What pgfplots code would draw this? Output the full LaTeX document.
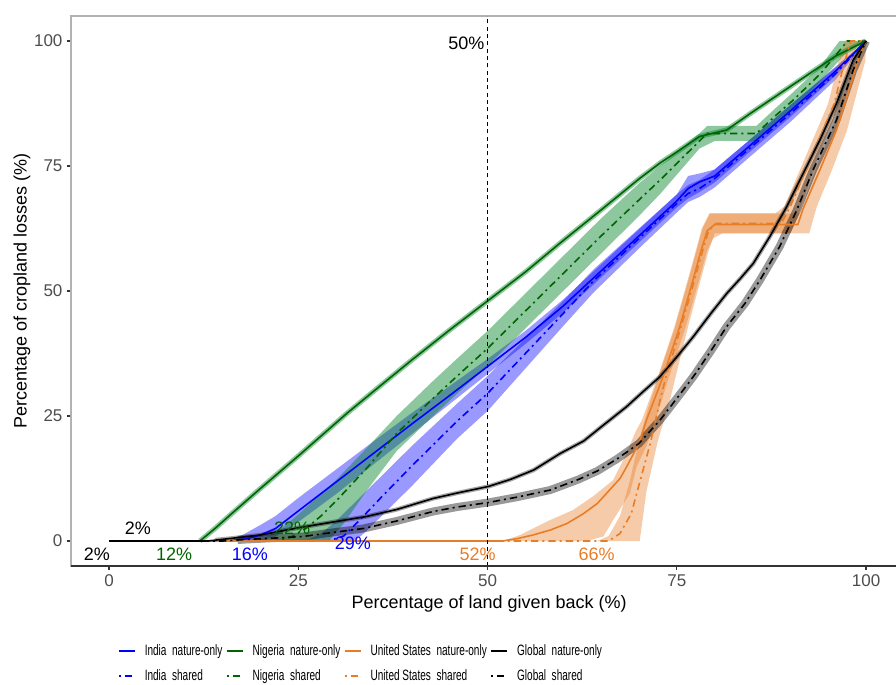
\documentclass[border=0pt]{standalone}
\usepackage{fontspec}
\setmainfont{Liberation Sans}
\usepackage{graphicx}
\usepackage{pgfplots}
\pgfplotsset{compat=1.18}

\definecolor{cIndia}{RGB}{0,0,255}
\definecolor{cNig}{RGB}{0,100,0}
\definecolor{cNigFill}{RGB}{0,130,40}
\definecolor{cUS}{RGB}{232,125,40}
\definecolor{cTick}{RGB}{77,77,77}
\tikzset{dd/.style={dash pattern=on 1.5pt off 3pt on 5.5pt off 3pt}}
\newcommand{\legtxt}[1]{\scalebox{0.67}[1]{\fontsize{11.25}{13}\selectfont #1}}

\begin{document}
\begin{tikzpicture}
\begin{axis}[
  x=5.6775pt, y=3.75pt,
  xmin=-5, xmax=105, ymin=-5, ymax=105,
  axis line style={draw=gray!60, line width=1.1pt},
  xtick={0,25,50,75,100}, ytick={0,25,50,75,100},
  tick align=outside, tick pos=left,
  major tick length=3pt,
  every tick/.style={black!80, line width=0.8pt},
  tick label style={font=\fontsize{12.75}{14}\selectfont, text=cTick},
  /pgf/number format/assume math mode=true,
  xlabel={Percentage of land given back (\%)},
  ylabel={Percentage of cropland losses (\%)},
  label style={font=\fontsize{13.5}{15}\selectfont},
  xlabel style={at={(rel axis cs:0.502,-0.069)}, anchor=center},
  ylabel style={at={(rel axis cs:-0.059,0.5)}, anchor=center},
  legend columns=4,
  legend image code/.code={\draw[line width=1.2pt, #1] (0pt,0pt) -- (12pt,0pt);},
  legend style={at={(axis cs:0.6,-19.6)}, anchor=north west, draw=none, fill=none,
    cells={anchor=west}, row sep=5pt,
    /tikz/every odd column/.append style={column sep=5pt},
    /tikz/every even column/.append style={column sep=0.5pt}},
]
\coordinate (bbSW) at (axis cs:-14.4,-28.6);
\coordinate (bbNE) at (axis cs:103.96,108.2);

% ---------- ribbons ----------
% India nature-only
\addplot[draw=none, fill=cIndia, fill opacity=0.4, forget plot] coordinates {
(16,0) (18,1.5) (20,3.2) (22,5) (25,8.6) (30,14.3) (35,20) (40,25.6) (45,31) (50,36.4) (55,42) (60,48.3) (65,55.3) (70,62.3) (75,69.3) (76.5,73) (78,73.5) (80,74.3) (85,80.7) (90,87.2) (96,94.9) (100,100)
(96,93.1) (90,84.8) (85,78.3) (80,71.7) (78,69.8) (76.5,68.5) (75,66.7) (70,59.7) (65,52.7) (60,45.7) (55,39.4) (50,33.4) (45,27.4) (40,21.4) (35,15.4) (30,9.4) (25,3.8) (22,0.9) (20,0) (16,0)};
% India shared
\addplot[draw=none, fill=cIndia, fill opacity=0.4, forget plot] coordinates {
(26,0) (28,1.5) (30,4) (33,8.5) (36,13) (40,19) (46,27.5) (50,33) (55,40.5) (60,48) (64,54.3) (70,62.5) (75,69.3) (76.5,71.2) (78,72.2) (80,74.3) (85,80.7) (90,87.2) (96,94.7) (100,100)
(96,92.3) (90,83.8) (85,77.3) (80,70.7) (78,68.8) (76.5,67.8) (75,65.7) (70,58.5) (64,49.7) (60,43) (55,34.5) (50,26) (46,20.5) (40,11) (36,5) (34,2) (32.5,0) (26,0)};
% Nigeria shared
\addplot[draw=none, fill=cNigFill, fill opacity=0.45, forget plot] coordinates {
(19,0) (21,1) (23,2.8) (25,5.3) (28,9.5) (30,12.2) (34,18.5) (38,25) (42.8,32) (46,36.5) (50,42) (55,49.5) (60,57) (65,64.5) (70,71.5) (72.8,75) (76,79) (78,81.5) (79,83) (85.5,83) (88,86.5) (90.4,89.8) (94,95) (96.5,100) (100,100)
(98,98.5) (97,97) (94,92) (90.4,86.6) (88,83.5) (85.5,80) (80,80) (78,78.5) (76,75) (72.8,69.4) (70,65) (65,57.5) (60,50) (55,42.5) (50,35) (46,29.5) (42.8,25) (38,18) (34,10) (31,3.5) (29,0) (19,0)};
% United States nature-only
\addplot[draw=none, fill=cUS, fill opacity=0.4, forget plot] coordinates {
(52,0) (54.3,1.2) (58,4) (61.3,6.2) (64,9) (66.6,12.2) (68.2,17) (69.6,22) (70.4,24.2) (72.5,32.9) (74.7,42.9) (76.5,52.5) (77.5,58) (78.3,62.5) (79.3,65.5) (91.2,65.5) (93.3,74.2) (95.5,82.2) (97.3,90.9) (98.7,97.5) (99.5,100) (100,100)
(100,99) (99.9,96) (99,90.9) (97.5,82.2) (95.5,74.2) (93.5,66.9) (92.5,61.5) (81,61.5) (79.8,60.5) (79,58) (78,52.5) (76.2,42.9) (74,32.9) (72.2,24.2) (71,19) (69.7,14.9) (68.8,9.5) (66.6,4.2) (65.3,0.9) (63.1,0) (52,0)};
% United States shared
\addplot[draw=none, fill=cUS, fill opacity=0.4, forget plot] coordinates {
(64.5,0) (66,1) (67.5,5) (68.8,12) (70,20) (71.3,27) (72.6,32.9) (74.8,42.9) (76.6,52.5) (77.6,58) (78.4,62.5) (79.4,65.5) (88,65.5) (89.2,66.9) (92.2,77.5) (95,87.5) (96.3,95.5) (97.2,100) (100,100)
(100,99.5) (98.8,99) (97.9,95.5) (96.6,87.5) (93.8,77.5) (91,65) (90,61.5) (81,61.5) (80,61.5) (79.2,58) (78.2,52.5) (76.5,42.9) (75.2,35) (74.1,28.2) (72.5,20) (71,10) (70.1,0) (64.5,0)};
% Nigeria nature-only (band)
\addplot[cNigFill, opacity=0.45, line width=3.8pt, forget plot] coordinates {
(12,0) (14,2.5) (16,5.2) (20,10.5) (25,17) (31.4,25.5) (35,30) (40,36.2) (45,42.2) (50,48) (55,53.8) (59.6,59.6) (65,66.2) (70,72.4) (72.8,75.6) (75,77.8) (78,80.9) (81.6,82.2) (85,85.8) (90,90.9) (96,97) (100,100)};
% Global nature-only (band)
\addplot[black, opacity=0.35, line width=3.2pt, forget plot] coordinates {
(14,0.2) (16,0.5) (20,1.2) (25.2,2.7) (30,3.9) (34,4.9) (38,6.3) (42.8,8.5) (46,9.6) (50.1,10.9) (53,12.3) (56.1,14.2) (59.6,17.5) (62.7,20) (65,22.8) (68.4,26.9) (70.5,29.8) (72.8,32.9) (75,36.8) (77.2,40.9) (79.5,45.5) (81.6,49.5) (83.4,52.5) (85.1,55.5) (87.3,60.9) (89.5,66.8) (91.7,73.5) (94,80.5) (96.1,87.5) (98.3,96.2) (100,100)};
% Global shared (band)
\addplot[black, opacity=0.4, line width=6pt, forget plot] coordinates {
(17,0.2) (18,0.3) (22,0.6) (25.6,0.9) (29,1.6) (33.6,2.5) (38,4) (42.8,5.9) (46,6.8) (50.1,7.7) (54,8.8) (58.3,10.2) (62,12.3) (64.5,14) (67.1,16.4) (70,19.5) (72.8,24.2) (75,28.5) (77.2,32.9) (79.5,38) (81.6,42.9) (84,47.5) (86,52.2) (88.6,58.9) (90.8,66) (93,74.2) (96.1,84.2) (98.3,94.2) (100,100)};

% ---------- lines ----------
\addplot[cIndia, line width=1.2pt, forget plot] coordinates {
(0,0) (16,0) (18,0.4) (20,1.2) (22,2.5) (25,6) (30,11.8) (35,17.6) (40,23.4) (45,29.1) (50,34.9) (55,40.7) (60,47) (65,54) (70,61) (75,68) (76.5,70.5) (78,71.8) (80,73) (85,79.5) (90,86) (96,94) (100,100)};
\addplot[cIndia, line width=1.2pt, dd, forget plot] coordinates {
(0,0) (29,0) (31,1) (33,4) (36,8.8) (40,15) (46,24) (50,29.5) (55,37.5) (60,45.5) (64,52) (70,60.5) (75,67.5) (76.5,69.5) (78,70.5) (80,72.5) (85,79) (90,85.5) (96,93.5) (100,100)};
\addplot[cNig, line width=1.2pt, forget plot] coordinates {
(0,0) (12,0) (14,2.5) (16,5.2) (20,10.5) (25,17) (31.4,25.5) (35,30) (40,36.2) (45,42.2) (50,48) (55,53.8) (59.6,59.6) (65,66.2) (70,72.4) (72.8,75.6) (75,77.8) (78,80.9) (81.6,82.2) (85,85.8) (90,90.9) (96,97) (100,100)};
\addplot[cNig, line width=1.2pt, dd, forget plot] coordinates {
(0,0) (22,0) (24,0.8) (26,2.5) (28,5) (30,8) (34,14.5) (38,21.5) (42.8,28.5) (46,33) (50,38.5) (55,46) (60,53.5) (65,61) (70,68.2) (72.8,72.2) (76,77) (78,80) (79,81.5) (85.5,81.5) (88,85) (90.4,88.2) (94,93.5) (97,99) (97.5,100) (100,100)};
\addplot[cUS, line width=1.2pt, forget plot] coordinates {
(0,0) (52,0) (54,0.5) (56,1.2) (58.3,2.2) (60.5,3.5) (62.7,5.5) (64.5,7.5) (65.7,9.5) (67.5,12.5) (68.4,14.9) (70,19.5) (71,24.2) (73.2,32.9) (75.4,42.9) (77.2,52.5) (78.2,58) (79,62) (80,63.3) (91,63.3) (91.7,66.5) (93.9,74.2) (96.1,82.2) (97.9,90.9) (99.2,97.5) (100,100)};
\addplot[cUS, line width=1.2pt, dd, forget plot] coordinates {
(0,0) (66,0) (67.5,1.5) (69,5.5) (69.7,9.5) (71.5,19.5) (72.8,28.2) (73.6,33) (75.6,43) (77.4,52.5) (78.4,58) (79.2,62) (80.2,63.5) (88.8,63.5) (90,66.9) (93,77.5) (95.8,87.5) (97.1,95.5) (98,100) (100,100)};
\addplot[black, line width=1.2pt, forget plot] coordinates {
(0,0) (13,0) (16,0.5) (20,1.2) (25.2,2.7) (30,3.9) (34,4.9) (38,6.3) (42.8,8.5) (46,9.6) (50.1,10.9) (53,12.3) (56.1,14.2) (59.6,17.5) (62.7,20) (65,22.8) (68.4,26.9) (70.5,29.8) (72.8,32.9) (75,36.8) (77.2,40.9) (79.5,45.5) (81.6,49.5) (83.4,52.5) (85.1,55.5) (87.3,60.9) (89.5,66.8) (91.7,73.5) (94,80.5) (96.1,87.5) (98.3,96.2) (100,100)};
\addplot[black, line width=1.2pt, dd, forget plot] coordinates {
(0,0) (15,0) (18,0.3) (22,0.6) (25.6,0.9) (29,1.6) (33.6,2.5) (38,4) (42.8,5.9) (46,6.8) (50.1,7.7) (54,8.8) (58.3,10.2) (62,12.3) (64.5,14) (67.1,16.4) (70,19.5) (72.8,24.2) (75,28.5) (77.2,32.9) (79.5,38) (81.6,42.9) (84,47.5) (86,52.2) (88.6,58.9) (90.8,66) (93,74.2) (96.1,84.2) (98.3,94.2) (100,100)};

% vertical reference line
\addplot[black, line width=0.6pt, dash pattern=on 3pt off 2.5pt, forget plot] coordinates {(50,-5) (50,105)};

% bottom axis line darker
\draw[black!80, line width=1.1pt] (rel axis cs:0,0) -- (rel axis cs:1,0);

% annotations
\begin{scope}[every node/.style={font=\fontsize{13.5}{15}\selectfont, inner sep=0pt}]
\node[text=black] at (axis cs:47.2,99.6) {50\%};
\node[text=black] at (axis cs:-1.6,-2.6) {2\%};
\node[text=black] at (axis cs:3.8,2.6) {2\%};
\node[text=cNig] at (axis cs:8.6,-2.6) {12\%};
\node[text=cIndia] at (axis cs:18.6,-2.6) {16\%};
\node[text=cNig] at (axis cs:24.2,2.6) {22\%};
\node[text=cIndia] at (axis cs:32.2,-0.4) {29\%};
\node[text=cUS] at (axis cs:48.7,-2.6) {52\%};
\node[text=cUS] at (axis cs:64.4,-2.6) {66\%};
\end{scope}

% legend
\addlegendimage{draw=cIndia}
\addlegendentry{\legtxt{India\ \ nature-only}}
\addlegendimage{draw=cNig}
\addlegendentry{\legtxt{Nigeria\ \ nature-only}}
\addlegendimage{draw=cUS}
\addlegendentry{\legtxt{United States\ \ nature-only}}
\addlegendimage{draw=black}
\addlegendentry{\legtxt{Global\ \ nature-only}}
\addlegendimage{draw=cIndia, dd}
\addlegendentry{\legtxt{India\ \ shared}}
\addlegendimage{draw=cNig, dd}
\addlegendentry{\legtxt{Nigeria\ \ shared}}
\addlegendimage{draw=cUS, dd}
\addlegendentry{\legtxt{United States\ \ shared}}
\addlegendimage{draw=black, dd}
\addlegendentry{\legtxt{Global\ \ shared}}
\end{axis}
\pgfresetboundingbox
\useasboundingbox (bbSW) rectangle (bbNE);
\end{tikzpicture}
\end{document}
